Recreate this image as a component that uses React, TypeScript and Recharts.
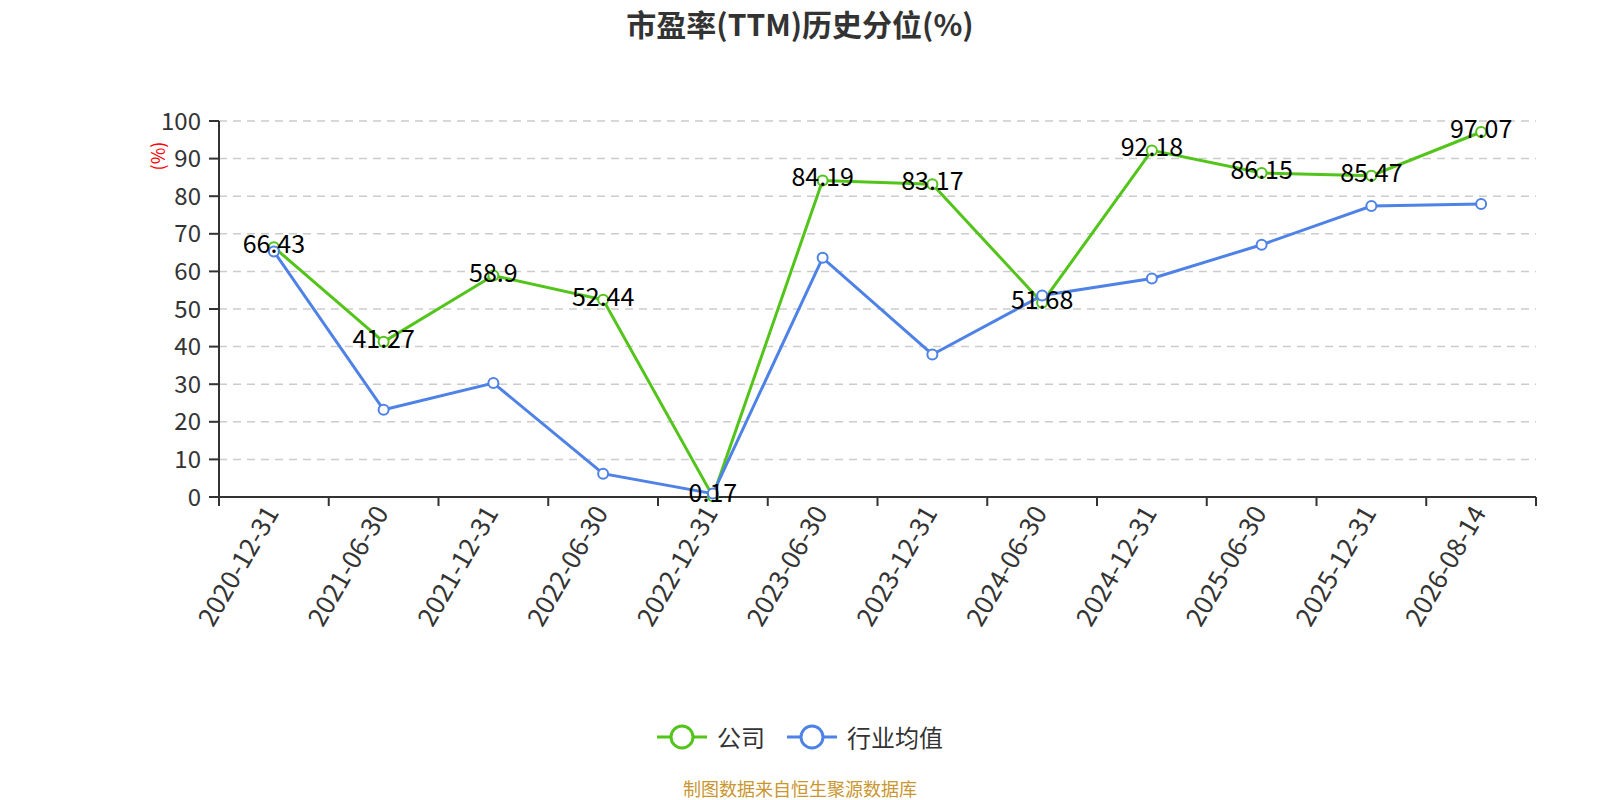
import React from 'react';
import { LineChart, Line, XAxis, YAxis, CartesianGrid, LabelList } from 'recharts';

const dates = [
  '2020-12-31', '2021-06-30', '2021-12-31', '2022-06-30', '2022-12-31', '2023-06-30',
  '2023-12-31', '2024-06-30', '2024-12-31', '2025-06-30', '2025-12-31', '2026-08-14',
];
const companyValues = [66.43, 41.27, 58.9, 52.44, 0.17, 84.19, 83.17, 51.68, 92.18, 86.15, 85.47, 97.07];
const industryValues = [65.3, 23.2, 30.3, 6.2, 0.9, 63.6, 37.9, 53.6, 58.1, 67.1, 77.4, 77.9];
const yTicks = [0, 10, 20, 30, 40, 50, 60, 70, 80, 90, 100];

const FONT = '"Noto Sans CJK SC", "Noto Sans", sans-serif';
const GREEN = '#52c41a';
const BLUE = '#4e82e6';

const series = [
  { key: 'company', name: '公司', color: GREEN },
  { key: 'industry', name: '行业均值', color: BLUE },
];

const data = dates.map((d, i) => ({
  idx: i,
  date: d,
  company: companyValues[i],
  industry: industryValues[i],
}));

// ticks at category centres (labels) and band edges (tick marks)
const xTicks: number[] = [];
for (let i = -1; i < dates.length; i++) {
  xTicks.push(i + 0.5);
  if (i + 1 < dates.length) xTicks.push(i + 1);
}

const XTick = (props: any) => {
  const { x, y, payload } = props;
  const v = payload.value;
  if (!Number.isInteger(v)) {
    return <line x1={x} x2={x} y1={y} y2={y + 9} stroke="#333" strokeWidth={2} />;
  }
  const tx = x - 4;
  const ty = y + 10;
  return (
    <text
      x={tx}
      y={ty}
      transform={`rotate(-60, ${tx}, ${ty})`}
      textAnchor="end"
      dominantBaseline="central"
      fontSize={26}
      fill="#333"
      fontFamily={FONT}
    >
      {dates[v]}
    </text>
  );
};

const ValueLabel = (props: any) => {
  const { x, y, value } = props;
  return (
    <text x={x} y={y - 5} textAnchor="middle" dominantBaseline="central" fontSize={25} fill="#000" fontFamily={FONT}>
      {value}
    </text>
  );
};

const App = () => {
  return (
    <div style={{ position: 'absolute', left: 0, top: 0, width: 1600, height: 800, background: '#fff', fontFamily: FONT }}>
      <div
        style={{
          position: 'absolute', top: 4, left: 0, width: 1600, textAlign: 'center',
          fontSize: 30, fontWeight: 'bold', color: '#333', lineHeight: '38px',
        }}
      >
        市盈率(TTM)历史分位(%)
      </div>
      <div
        style={{
          position: 'absolute', left: 157, top: 156, transform: 'translate(-50%, -50%) rotate(-90deg)',
          color: '#ff0000', fontSize: 18, lineHeight: '20px', whiteSpace: 'nowrap',
        }}
      >
        (%)
      </div>

      <LineChart width={1600} height={800} data={data} margin={{ top: 121, right: 64, left: 139, bottom: 163 }}>
        <CartesianGrid horizontal vertical={false} stroke="#ccc" strokeDasharray="8 6" strokeWidth={1.5} />
        <XAxis
          type="number"
          dataKey="idx"
          domain={[-0.5, 11.5]}
          ticks={xTicks}
          interval={0}
          tickSize={0}
          tickMargin={0}
          tickLine={false}
          axisLine={{ stroke: '#333', strokeWidth: 2 }}
          tick={<XTick />}
          height={140}
        />
        <YAxis
          type="number"
          domain={[0, 100]}
          ticks={yTicks}
          interval={0}
          width={80}
          tickSize={10}
          tickMargin={8}
          axisLine={{ stroke: '#333', strokeWidth: 2 }}
          tickLine={{ stroke: '#333', strokeWidth: 2 }}
          tick={{ fill: '#333', fontSize: 24, fontFamily: FONT }}
        />
        <Line
          type="linear"
          dataKey="company"
          name="公司"
          stroke={GREEN}
          strokeWidth={3}
          dot={{ r: 5, fill: '#fff', stroke: GREEN, strokeWidth: 2 }}
          activeDot={false}
          isAnimationActive={false}
        >
          <LabelList dataKey="company" content={<ValueLabel />} />
        </Line>
        <Line
          type="linear"
          dataKey="industry"
          name="行业均值"
          stroke={BLUE}
          strokeWidth={3}
          dot={{ r: 5, fill: '#fff', stroke: BLUE, strokeWidth: 2 }}
          activeDot={false}
          isAnimationActive={false}
        />
      </LineChart>

      <div
        style={{
          position: 'absolute', top: 721, left: 0, width: 1600, display: 'flex',
          justifyContent: 'center', alignItems: 'center', height: 32,
        }}
      >
        {series.map((s, i) => (
          <div key={s.key} style={{ display: 'flex', alignItems: 'center', marginLeft: i === 0 ? 0 : 22 }}>
            <svg width={50} height={28}>
              <line x1={0} x2={50} y1={14} y2={14} stroke={s.color} strokeWidth={3} />
              <circle cx={25} cy={14} r={11} fill="#fff" stroke={s.color} strokeWidth={3} />
            </svg>
            <span style={{ marginLeft: 10, fontSize: 24, color: '#333', lineHeight: '32px' }}>{s.name}</span>
          </div>
        ))}
      </div>

      <div
        style={{
          position: 'absolute', top: 777, left: 0, width: 1600, textAlign: 'center',
          fontSize: 18, color: '#c9962f', lineHeight: '22px',
        }}
      >
        制图数据来自恒生聚源数据库
      </div>
    </div>
  );
};

export default App;
